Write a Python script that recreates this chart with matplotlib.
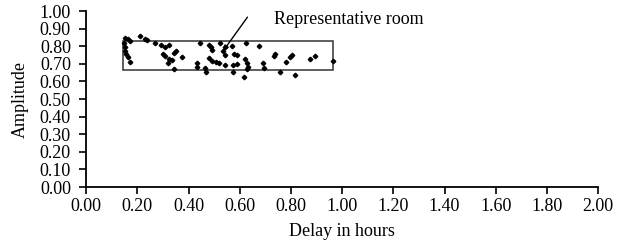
import matplotlib.pyplot as plt
from matplotlib.patches import Rectangle

plt.rcParams['font.family'] = ['Liberation Serif', 'DejaVu Serif']

# delay (hours) and amplitude of each room
delay = [0.152, 0.163, 0.172, 0.146, 0.152, 0.150, 0.155, 0.165, 0.172,
         0.211, 0.230, 0.237, 0.270, 0.293, 0.309, 0.322,
         0.350, 0.345, 0.302, 0.309, 0.322, 0.319, 0.335, 0.374, 0.345,
         0.445, 0.480, 0.488, 0.491, 0.523, 0.543, 0.536, 0.568, 0.624,
         0.543, 0.579, 0.589, 0.478, 0.491, 0.507, 0.517, 0.543, 0.575, 0.589,
         0.621, 0.628, 0.432, 0.432, 0.465, 0.468, 0.575, 0.628, 0.615, 0.634,
         0.676, 0.732, 0.738, 0.689, 0.693, 0.780, 0.797, 0.803, 0.758, 0.814,
         0.875, 0.892, 0.966]
amplitude = [0.845, 0.839, 0.831, 0.816, 0.797, 0.775, 0.756, 0.737, 0.712,
             0.858, 0.839, 0.835, 0.820, 0.807, 0.794, 0.807,
             0.775, 0.760, 0.756, 0.744, 0.726, 0.703, 0.722, 0.740, 0.669,
             0.816, 0.807, 0.794, 0.778, 0.820, 0.797, 0.775, 0.801, 0.816,
             0.750, 0.756, 0.750, 0.731, 0.718, 0.712, 0.703, 0.693, 0.693, 0.699,
             0.726, 0.706, 0.703, 0.680, 0.674, 0.655, 0.655, 0.669, 0.627, 0.684,
             0.801, 0.744, 0.756, 0.703, 0.674, 0.712, 0.737, 0.750, 0.655, 0.636,
             0.726, 0.744, 0.718]

# box around the cluster: (x0, y0, x1, y1)
box = (0.145, 0.665, 0.965, 0.830)
rep_room = (0.536, 0.775)
label = 'Representative room'

fig = plt.figure(figsize=(6.29, 2.5), dpi=100)
ax = fig.add_axes([0.137, 0.252, 0.814, 0.704])

ax.plot(delay, amplitude, linestyle='none', marker='D', markersize=2.3,
        color='black', clip_on=False)

ax.add_patch(Rectangle((box[0], box[1]), box[2] - box[0], box[3] - box[1],
                       fill=False, edgecolor='#333333', linewidth=1.1))

ax.annotate('', xy=rep_room, xytext=(0.63, 0.965),
            arrowprops=dict(arrowstyle='-|>', color='black', lw=1.0,
                            mutation_scale=7, shrinkA=0, shrinkB=0),
            annotation_clip=False)
ax.text(0.735, 0.95, label, fontsize=13, va='center', ha='left')

ax.set_xlim(0, 2)
ax.set_ylim(0, 1)
ax.set_xticks([i * 0.2 for i in range(11)])
ax.set_yticks([i * 0.1 for i in range(11)])
ax.set_xticklabels([f'{i * 0.2:.2f}' for i in range(11)], fontsize=13)
ax.set_yticklabels([f'{i * 0.1:.2f}' for i in range(11)], fontsize=13)
ax.tick_params(direction='out', length=5, width=1.2, pad=3)
ax.tick_params(axis='y', pad=6)

for s in ['top', 'right']:
    ax.spines[s].set_visible(False)
for s in ['left', 'bottom']:
    ax.spines[s].set_linewidth(1.3)

ax.set_xlabel('Delay in hours', fontsize=13, labelpad=6)
ax.set_ylabel('Amplitude', fontsize=13, labelpad=8)

fig.savefig('out.png', dpi=100)
